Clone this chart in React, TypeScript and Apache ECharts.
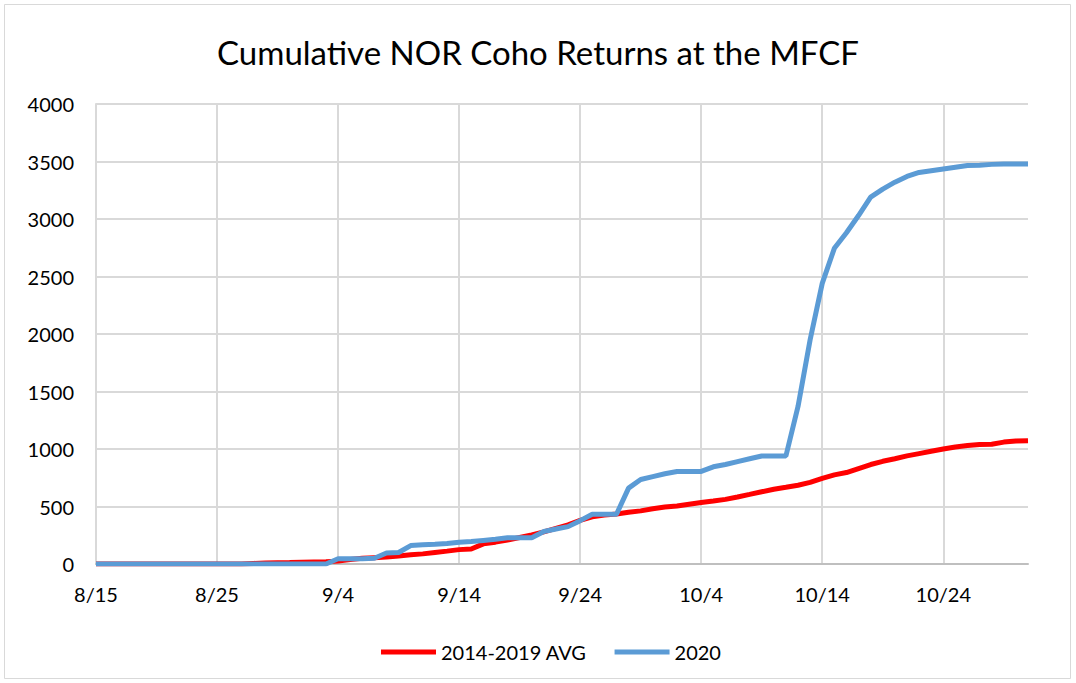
import React, { useEffect, useRef } from "react";
import * as echarts from "echarts";

const categories: string[] = [
  "8/15","8/16","8/17","8/18","8/19","8/20","8/21","8/22","8/23","8/24","8/25","8/26","8/27","8/28","8/29","8/30","8/31",
  "9/1","9/2","9/3","9/4","9/5","9/6","9/7","9/8","9/9","9/10","9/11","9/12","9/13","9/14","9/15","9/16","9/17","9/18","9/19","9/20","9/21","9/22","9/23","9/24","9/25","9/26","9/27","9/28","9/29","9/30",
  "10/1","10/2","10/3","10/4","10/5","10/6","10/7","10/8","10/9","10/10","10/11","10/12","10/13","10/14","10/15","10/16","10/17","10/18","10/19","10/20","10/21","10/22","10/23","10/24","10/25","10/26","10/27","10/28","10/29","10/30","10/31",
];

const avg2014to2019: number[] = [
  0, 0, 0, 0, 0, 0, 0, 0, 0, 0, 0, 0, 0,
  5, 8, 10, 12, 15, 18, 20, 25,
  40, 50, 55, 60, 70, 80, 88, 100, 112, 125,
  130, 175, 190, 208, 230, 252, 280, 310, 340, 380,
  410, 425, 435, 450, 462, 480, 495, 505, 520, 535,
  548, 562, 583, 605, 628, 650, 667, 685, 710, 745,
  775, 795, 830, 865, 893, 915, 940, 960, 980, 1000,
  1018, 1030, 1040, 1042, 1060, 1070, 1072,
];

const returns2020: number[] = [
  0, 0, 0, 0, 0, 0, 0, 0, 0, 0, 0, 0, 0, 0, 0, 0, 0, 0, 0, 0,
  45, 45, 45, 50, 95, 100, 160, 167, 172, 178,
  190, 195, 205, 215, 228, 229, 229, 283, 304, 325,
  377, 432, 432, 432, 660, 735, 760, 785, 805, 805,
  805, 845, 865, 890, 915, 939, 939, 939, 1370, 1950,
  2440, 2745, 2880, 3030, 3190, 3260, 3320, 3370, 3405, 3420,
  3435, 3450, 3465, 3468, 3475, 3478, 3478, 3478,
];

const seriesNames = ["2014-2019 AVG", "2020"];
const titleText = "Cumulative NOR Coho Returns at the MFCF";

const FONT = "Lato, 'Noto Sans', sans-serif";

export default function App() {
  const ref = useRef<HTMLDivElement>(null);
  useEffect(() => {
    if (!ref.current) return;
    const chart = echarts.init(ref.current, undefined, { renderer: "svg" });
    chart.setOption({
      animation: false,
      backgroundColor: "#ffffff",
      title: {
        text: titleText,
        left: "center",
        top: 30,
        textStyle: { fontFamily: FONT, fontSize: 33, fontWeight: "normal", color: "#000000" },
      },
      graphic: [
        {
          type: "rect",
          shape: { x: 4.5, y: 4.5, width: 1066, height: 674 },
          style: { fill: "none", stroke: "#d9d9d9", lineWidth: 1 },
          silent: true,
        },
      ],
      legend: {
        left: 376,
        top: 637,
        itemWidth: 55,
        itemHeight: 5,
        itemGap: 28,
        icon: "rect",
        textStyle: { fontFamily: FONT, fontSize: 20, color: "#000000" },
        data: seriesNames,
      },
      grid: { left: 96, right: 48, top: 104, bottom: 119, containLabel: false },
      xAxis: {
        type: "category",
        data: categories,
        boundaryGap: false,
        axisLine: { show: true, lineStyle: { color: "#bfbfbf", width: 2 } },
        axisTick: { show: false },
        axisLabel: {
          interval: 9,
          margin: 20,
          fontFamily: FONT,
          fontSize: 20,
          color: "#000000",
        },
        splitLine: { show: true, interval: 9, lineStyle: { color: "#d9d9d9", width: 2 } },
      },
      yAxis: {
        type: "value",
        min: 0,
        max: 4000,
        interval: 500,
        axisLine: { show: true, lineStyle: { color: "#d9d9d9", width: 2 } },
        axisTick: { show: false },
        axisLabel: {
          margin: 22,
          fontFamily: FONT,
          fontSize: 20,
          color: "#000000",
          formatter: (v: number) => String(v),
        },
        splitLine: { show: true, lineStyle: { color: "#d9d9d9", width: 2 } },
      },
      series: [
        {
          name: seriesNames[0],
          type: "line",
          data: avg2014to2019,
          showSymbol: false,
          symbol: "none",
          lineStyle: { color: "#ff0000", width: 5 },
          itemStyle: { color: "#ff0000" },
          z: 2,
        },
        {
          name: seriesNames[1],
          type: "line",
          data: returns2020,
          showSymbol: false,
          symbol: "none",
          lineStyle: { color: "#5b9bd5", width: 5 },
          itemStyle: { color: "#5b9bd5" },
          z: 3,
        },
      ],
    });
    return () => chart.dispose();
  }, []);
  return (
    <div
      ref={ref}
      style={{ position: "absolute", left: 0, top: 0, width: 1076, height: 683 }}
    />
  );
}
